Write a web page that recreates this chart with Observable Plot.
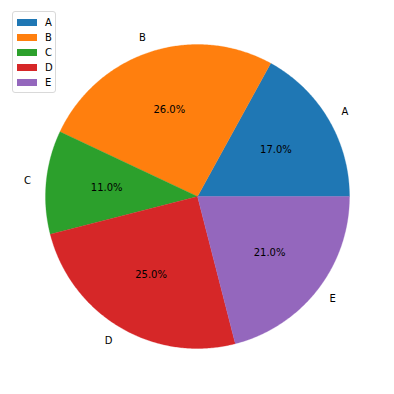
<!DOCTYPE html>
<html>
<head>
<meta charset="utf-8">
<script src="https://cdn.jsdelivr.net/npm/d3@7"></script>
<script src="https://cdn.jsdelivr.net/npm/@observablehq/plot@0.6"></script>
<style>
body { margin: 0; background: #fff; }
#wrap { position: relative; width: 394px; height: 394px; font-family: "DejaVu Sans", sans-serif; }
#legend { position: absolute; left: 12px; top: 11px; width: 42px; border: 1px solid #d9d9d9; border-radius: 3px; background: rgba(255,255,255,0.8); padding: 3px 0 2px 0; font-size: 10px; color: #000; }
.row { display: flex; align-items: center; height: 15px; }
.sw { width: 20px; height: 7px; margin-left: 4px; margin-right: 8px; }
</style>
</head>
<body>
<div id="wrap"></div>
<script>
const labels = ["A", "B", "C", "D", "E"];
const values = [17, 26, 11, 25, 21];
const colors = ["#1f77b4", "#ff7f0e", "#2ca02c", "#d62728", "#9467bd"];

const total = d3.sum(values);
// counterclockwise from east, like matplotlib
const slices = [];
let start = 0;
values.forEach((v, i) => {
  const a0 = start, a1 = start + v / total * 2 * Math.PI;
  slices.push({label: labels[i], value: v, a0, a1, mid: (a0 + a1) / 2});
  start = a1;
});

const pts = [];
for (const s of slices) {
  pts.push({label: s.label, x: 0, y: 0});
  const n = Math.max(8, Math.ceil((s.a1 - s.a0) / 0.01));
  for (let k = 0; k <= n; k++) {
    const a = s.a0 + (s.a1 - s.a0) * k / n;
    pts.push({label: s.label, x: Math.cos(a), y: Math.sin(a)});
  }
  pts.push({label: s.label, x: 0, y: 0});
}

const pctText = slices.map(s => ({x: 0.6 * Math.cos(s.mid), y: 0.6 * Math.sin(s.mid), t: (s.value / total * 100).toFixed(1) + "%"}));
const lblText = slices.map(s => ({x: 1.1 * Math.cos(s.mid), y: 1.1 * Math.sin(s.mid), t: s.label}));

const chart = Plot.plot({
  width: 394, height: 394,
  margin: 0,
  style: {fontFamily: "DejaVu Sans, sans-serif", fontSize: "10px", background: "#fff"},
  x: {domain: [-197/152, 197/152], axis: null},
  y: {domain: [-198/152, 196/152], axis: null},
  color: {domain: labels, range: colors},
  marks: [
    Plot.line(pts, {x: "x", y: "y", z: "label", fill: "label", stroke: "label", strokeWidth: 0.3, curve: "linear"}),
    Plot.text(pctText, {x: "x", y: "y", text: "t", fill: "#000", fontSize: 10}),
    Plot.text(lblText.filter(d => d.x >= 0), {x: "x", y: "y", text: "t", fill: "#000", fontSize: 10, textAnchor: "start"}),
    Plot.text(lblText.filter(d => d.x < 0), {x: "x", y: "y", text: "t", fill: "#000", fontSize: 10, textAnchor: "end"})
  ]
});

const wrap = document.getElementById("wrap");
wrap.appendChild(chart);
const leg = document.createElement("div");
leg.id = "legend";
labels.forEach((l, i) => {
  const r = document.createElement("div");
  r.className = "row";
  const sw = document.createElement("div");
  sw.className = "sw";
  sw.style.background = colors[i];
  const t = document.createElement("span");
  t.textContent = l;
  r.appendChild(sw); r.appendChild(t);
  leg.appendChild(r);
});
wrap.appendChild(leg);
</script>
</body>
</html>
